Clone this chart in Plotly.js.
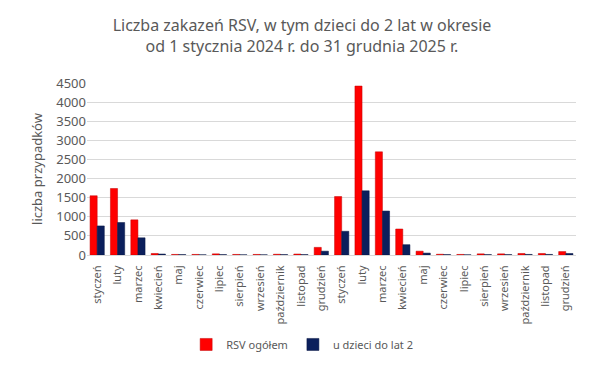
<!DOCTYPE html>
<html>
<head>
<meta charset="utf-8">
<script src="https://cdn.plot.ly/plotly-3.0.1.min.js"></script>
<style>html,body{margin:0;padding:0;background:#fff;}#chart{width:604px;height:367px;}</style>
</head>
<body>
<div id="chart"></div>
<script>
var months = ["styczeń","luty","marzec","kwiecień","maj","czerwiec","lipiec","sierpień","wrzesień","październik","listopad","grudzień"];
var categories = months.concat(months);
var rsvTotal = [1550, 1740, 920, 40, 15, 15, 30, 15, 15, 20, 25, 200,
                1530, 4420, 2700, 680, 100, 20, 15, 30, 30, 40, 40, 90];
var rsvKids = [760, 850, 450, 25, 10, 5, 10, 5, 5, 10, 10, 100,
               620, 1680, 1150, 270, 50, 10, 5, 10, 10, 15, 15, 40];
var idx = categories.map(function(_, i){ return i; });

var font = "Noto Sans, Open Sans, sans-serif";
var gray = "#595959";

var traces = [
  {type:"bar", name:"RSV ogółem", x: idx, y: rsvTotal,
   marker:{color:"#FF0000", line:{color:"#C00000", width:0.5}}},
  {type:"bar", name:"u dzieci do lat 2", x: idx, y: rsvKids,
   marker:{color:"#0B1F5C", line:{color:"#061440", width:0.5}}}
];

var layout = {
  width:604, height:367,
  margin:{l:87, r:28, t:83, b:112, autoexpand:false},
  paper_bgcolor:"#fff", plot_bgcolor:"#fff",
  barmode:"group", bargap:0.3, bargroupgap:0,
  title:{text:"Liczba zakazeń RSV, w tym dzieci do 2 lat w okresie<br>od 1 stycznia 2024 r. do 31 grudnia 2025 r.",
         font:{family:font, size:16, color:gray}, x:0.5, xanchor:"center", y:0.916, yanchor:"middle"},
  font:{family:font, color:gray},
  xaxis:{tickmode:"array", tickvals: idx, ticktext: categories, tickangle:-90, automargin:false,
         tickfont:{family:font, size:11, color:gray}, showgrid:false, zeroline:false,
         showline:true, linecolor:"#D9D9D9", ticks:"outside", ticklen:5, tickcolor:"rgba(0,0,0,0)", range:[-0.5, 23.5]},
  yaxis:{range:[0,4500], dtick:500, tickfont:{family:font, size:13, color:gray}, automargin:false,
         gridcolor:"#D9D9D9", gridwidth:1, zeroline:false, showline:false, ticks:"",
         title:{text:"liczba przypadków", font:{family:font, size:13, color:gray}, standoff:10}},
  legend:{orientation:"h", x:0.44, xanchor:"center", y:-0.52, yanchor:"middle",
          font:{family:font, size:11, color:gray}, itemwidth:30, traceorder:"normal"},
  showlegend:true
};

Plotly.newPlot("chart", traces, layout, {displayModeBar:false, staticPlot:true});
</script>
</body>
</html>
